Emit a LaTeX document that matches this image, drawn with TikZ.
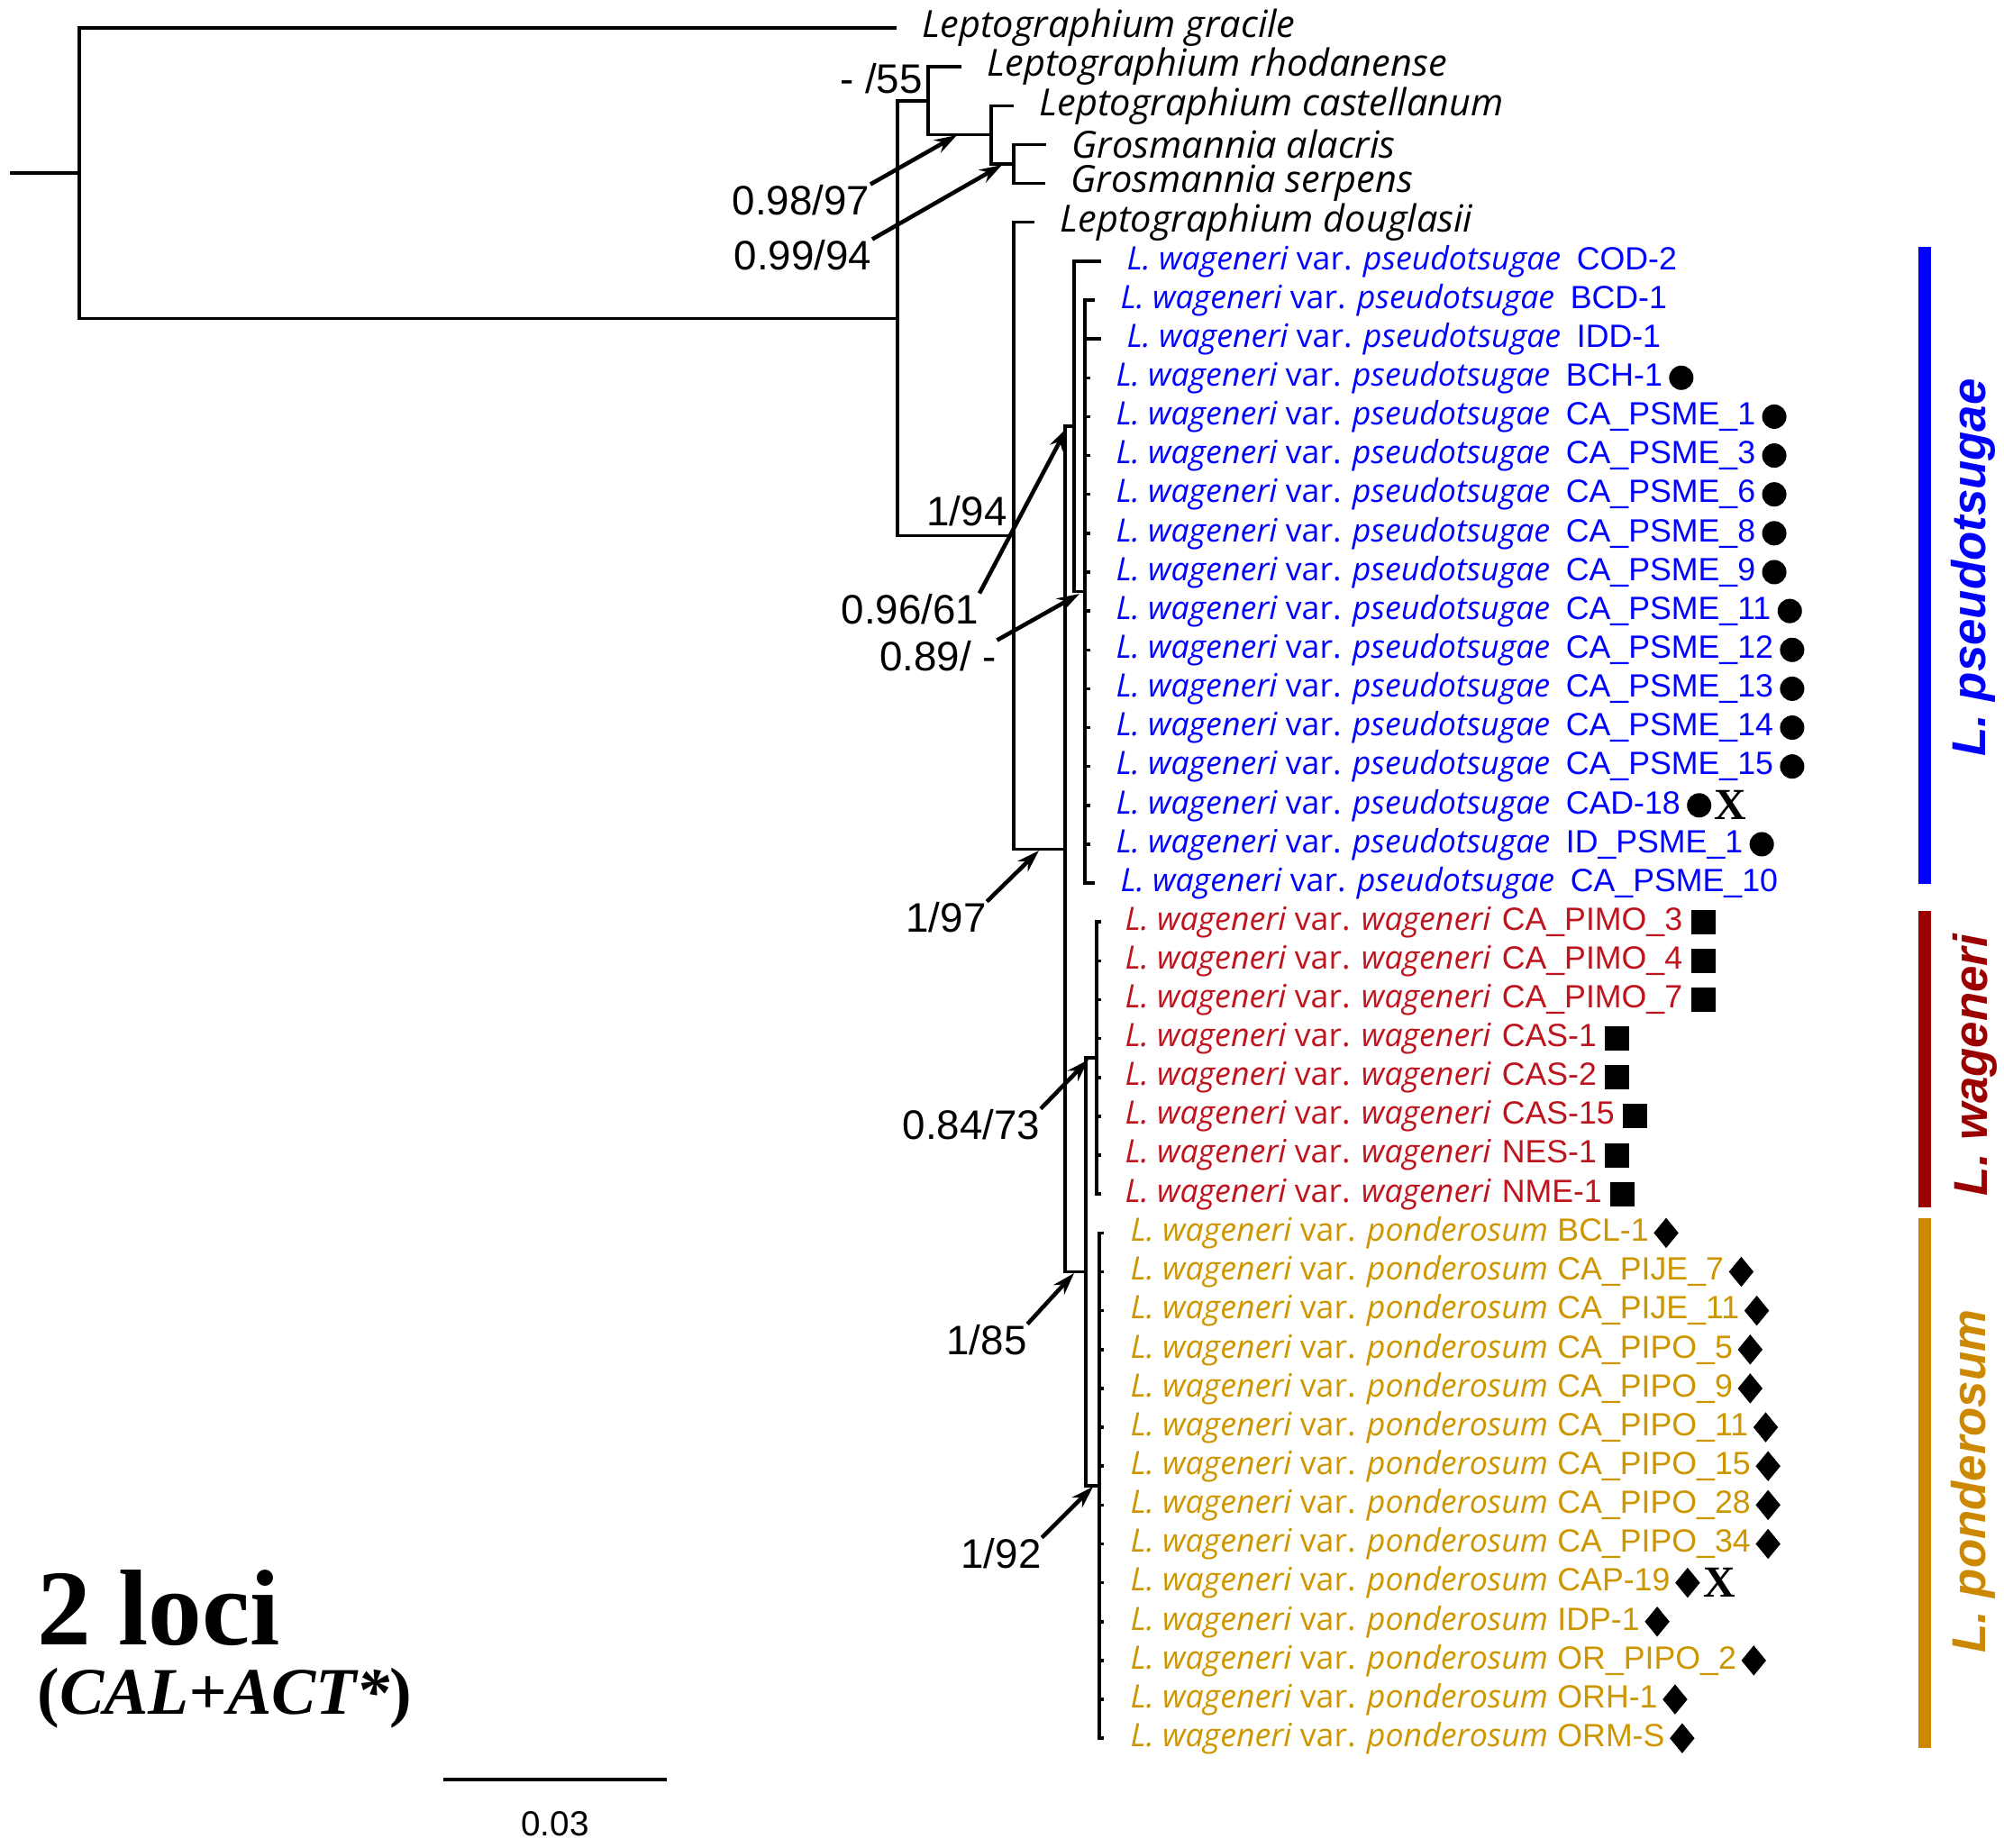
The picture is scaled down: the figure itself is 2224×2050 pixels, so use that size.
\documentclass[tikz,border=0pt]{standalone}
\usepackage{fontspec}
\setmainfont{Open Sans}
\newfontfamily\codefont{Liberation Sans}
\newfontfamily\locifont{Liberation Serif}
\usetikzlibrary{positioning, shapes.geometric, arrows.meta}

\definecolor{psdblue}{RGB}{0,0,255}
\definecolor{wagred}{RGB}{190,20,30}
\definecolor{wagbar}{RGB}{155,0,0}
\definecolor{ponyel}{RGB}{205,150,0}
\definecolor{ponbar}{RGB}{204,136,0}

% taxon labels
\newcommand\lwpsd[1]{{\itshape L. wageneri} var. {\itshape pseudotsugae}\hspace{5pt}{\codefont #1}}
\newcommand\lwwag[1]{{\itshape L. wageneri} var. {\itshape wageneri}\hspace{3.5pt}{\codefont #1}}
\newcommand\lwpon[1]{{\itshape L. wageneri} var. {\itshape ponderosum}\hspace{3pt}{\codefont #1}}

\begin{document}
\begin{tikzpicture}[x=0.01cm, y=-0.01cm,
        branch/.style = {line width=1pt},
        taxon/.style = {anchor=west, inner sep=0pt, font=\fontsize{10.15}{12}\selectfont},
        outgroup/.style = {anchor=west, inner sep=0pt, font=\fontsize{11.8}{13}\selectfont\itshape},
        support/.style = {inner sep=0pt, font=\codefont\fontsize{13}{15}\selectfont},
        pointer/.style = {-{Stealth[length=0.25cm, width=0.16cm]}, line width=1.3pt},
        dotmark/.style = {circle, fill, inner sep=0pt, minimum size=0.27cm},
        boxmark/.style = {rectangle, fill, inner sep=0pt, minimum size=0.27cm},
        gemmark/.style = {diamond, fill, inner sep=0pt, minimum width=0.28cm, minimum height=0.34cm},
        cross/.style = {inner sep=0pt, font=\locifont\bfseries\fontsize{14}{14}\selectfont},
        cladename/.style = {rotate=90, anchor=base, inner sep=0pt, font=\codefont\itshape\bfseries\fontsize{15}{18}\selectfont}
        ]
    \useasboundingbox (0,0) rectangle (2224,2050);

    % internal nodes
    \coordinate (rootend) at (11,192.2);
    \coordinate (nRoot) at (88,192.2);
    \coordinate (nA) at (996,353.3);
    \coordinate (nG) at (1030,111.9);
    \coordinate (nF) at (1100,149.7);
    \coordinate (nE) at (1125,182.0);
    \coordinate (nB) at (1125,594.6);
    \coordinate (nC) at (1182,942.4);
    \coordinate (nP) at (1192,473.2);
    \coordinate (nQ) at (1204,656.6);
    \coordinate (nD) at (1205,1411.5);
    \coordinate (nR) at (1217,1174.2);
    \coordinate (nY) at (1220,1648.8);

    % outgroups
    \coordinate (tip0) at (995,31.0);
    \coordinate (tip1) at (1067,74.1);
    \coordinate (tip2) at (1125,117.3);
    \coordinate (tip3) at (1161,160.4);
    \coordinate (tip4) at (1160,203.6);
    \coordinate (tip5) at (1148,246.7);
    \coordinate (tip6) at (1222,289.8);
    \node[outgroup, right=0.28cm of tip0] (lab0) {Leptographium gracile};
    \node[outgroup, right=0.28cm of tip1] (lab1) {Leptographium rhodanense};
    \node[outgroup, right=0.28cm of tip2] (lab2) {Leptographium castellanum};
    \node[outgroup, right=0.28cm of tip3] (lab3) {Grosmannia alacris};
    \node[outgroup, right=0.28cm of tip4] (lab4) {Grosmannia serpens};
    \node[outgroup, right=0.28cm of tip5] (lab5) {Leptographium douglasii};
    \node[taxon, psdblue, right=0.28cm of tip6] (lab6) {\lwpsd{COD-2}};

    \draw[branch] (rootend) -- (nRoot);
    \draw[branch] (nRoot) |- (tip0);
    \draw[branch] (nRoot) |- (nA);
    \draw[branch] (nA) |- (nG);
    \draw[branch] (nA) |- (nB);
    \draw[branch] (nG) |- (tip1);
    \draw[branch] (nG) |- (nF);
    \draw[branch] (nF) |- (tip2);
    \draw[branch] (nF) |- (nE);
    \draw[branch] (nE) |- (tip3);
    \draw[branch] (nE) |- (tip4);
    \draw[branch] (nB) |- (tip5);
    \draw[branch] (nB) |- (nC);
    \draw[branch] (nC) |- (nP);
    \draw[branch] (nC) |- (nD);
    \draw[branch] (nP) |- (tip6);
    \draw[branch] (nP) |- (nQ);
    \draw[branch] (nD) |- (nR);
    \draw[branch] (nD) |- (nY);

    % var. pseudotsugae
    \foreach \i/\tx/\code/\m in {7/1215/BCD-1/0, 8/1222/IDD-1/0, 9/1210/BCH-1/1,
            10/1210/CA\_PSME\_1/1, 11/1210/CA\_PSME\_3/1, 12/1210/CA\_PSME\_6/1,
            13/1210/CA\_PSME\_8/1, 14/1210/CA\_PSME\_9/1, 15/1210/CA\_PSME\_11/1,
            16/1210/CA\_PSME\_12/1, 17/1210/CA\_PSME\_13/1, 18/1210/CA\_PSME\_14/1,
            19/1210/CA\_PSME\_15/1, 20/1210/CAD-18/1, 21/1210/ID\_PSME\_1/1,
            22/1215/CA\_PSME\_10/0} {
        \coordinate (tip\i) at (\tx,{31+43.14*\i});
        \draw[branch] (nQ) |- (tip\i);
        \node[taxon, psdblue, right=0.28cm of tip\i] (lab\i) {\lwpsd{\code}};
        \ifnum\m=1 \node[dotmark, right=0.06cm of lab\i] (mk\i) {}; \fi
    }
    \node[cross, right=0.02cm of mk20] (x20) {X};

    % var. wageneri
    \foreach \i/\code in {23/CA\_PIMO\_3, 24/CA\_PIMO\_4, 25/CA\_PIMO\_7, 26/CAS-1,
            27/CAS-2, 28/CAS-15, 29/NES-1, 30/NME-1} {
        \coordinate (tip\i) at (1222,{31+43.14*\i});
        \draw[branch] (nR) |- (tip\i);
        \node[taxon, wagred, right=0.26cm of tip\i] (lab\i) {\lwwag{\code}};
        \node[boxmark, right=0.08cm of lab\i] (mk\i) {};
    }

    % var. ponderosum
    \foreach \i/\code in {31/BCL-1, 32/CA\_PIJE\_7, 33/CA\_PIJE\_11, 34/CA\_PIPO\_5,
            35/CA\_PIPO\_9, 36/CA\_PIPO\_11, 37/CA\_PIPO\_15, 38/CA\_PIPO\_28,
            39/CA\_PIPO\_34, 40/CAP-19, 41/IDP-1, 42/OR\_PIPO\_2, 43/ORH-1, 44/ORM-S} {
        \coordinate (tip\i) at (1225,{31+43.14*\i});
        \draw[branch] (nY) |- (tip\i);
        \node[taxon, ponyel, right=0.29cm of tip\i] (lab\i) {\lwpon{\code}};
        \node[gemmark, right=0.04cm of lab\i] (mk\i) {};
    }
    \node[cross, right=0.02cm of mk40] (x40) {X};

    % support values
    \node[support] (s55) at (978,87) {- /55};
    \node[support] (s98) at (889,222) {0.98/97};
    \node[support] (s99) at (891,283) {0.99/94};
    \node[support] (s94) at (1073,567) {1/94};
    \node[support] (s96) at (1010,676) {0.96/61};
    \node[support] (s89) at (1041,728) {0.89/ -};
    \node[support] (s97) at (1050,1018) {1/97};
    \node[support] (s84) at (1078,1248) {0.84/73};
    \node[support] (s85) at (1095,1487) {1/85};
    \node[support] (s92) at (1111,1724) {1/92};
    \coordinate (h98) at (1062,150);
    \coordinate (h99) at (1112,183);
    \coordinate (h96) at (1184,475);
    \coordinate (h89) at (1198,659);
    \coordinate (h97) at (1153,944);
    \coordinate (h84) at (1208,1176);
    \coordinate (h85) at (1192,1413);
    \coordinate (h92) at (1213,1650);
    \draw[pointer] (s98.north east) -- (h98);
    \draw[pointer] (s99.north east) -- (h99);
    \draw[pointer] (s96.north east) -- (h96);
    \draw[pointer] (s89.north east) -- (h89);
    \draw[pointer] (s97.north east) -- (h97);
    \draw[pointer] (s84.north east) -- (h84);
    \draw[pointer] (s85.north east) -- (h85);
    \draw[pointer] (s92.north east) -- (h92);

    % clade bars
    \fill[psdblue] (2129,274) rectangle (2143,981);
    \fill[wagbar] (2129,1011) rectangle (2143,1340);
    \fill[ponbar] (2129,1352) rectangle (2143,1940);
    \node[cladename, psdblue] (cpsd) at (2203,630) {L. pseudotsugae};
    \node[cladename, wagbar] (cwag) at (2205,1182) {L. wageneri};
    \node[cladename, ponbar] (cpon) at (2203,1644) {L. ponderosum};

    % title and scale
    \node[anchor=base west, inner sep=0pt, font=\locifont\bfseries\fontsize{34}{36}\selectfont] (loci) at (41,1825) {2 loci};
    \node[anchor=base west, inner sep=0pt, font=\locifont\bfseries\fontsize{21}{24}\selectfont] (genes) at (41,1902) {(\textit{CAL+ACT*})};
    \draw[branch] (492,1975) -- (740,1975);
    \node[inner sep=0pt, font=\codefont\fontsize{11}{12}\selectfont] (scale) at (616,2024) {0.03};
\end{tikzpicture}
\end{document}
